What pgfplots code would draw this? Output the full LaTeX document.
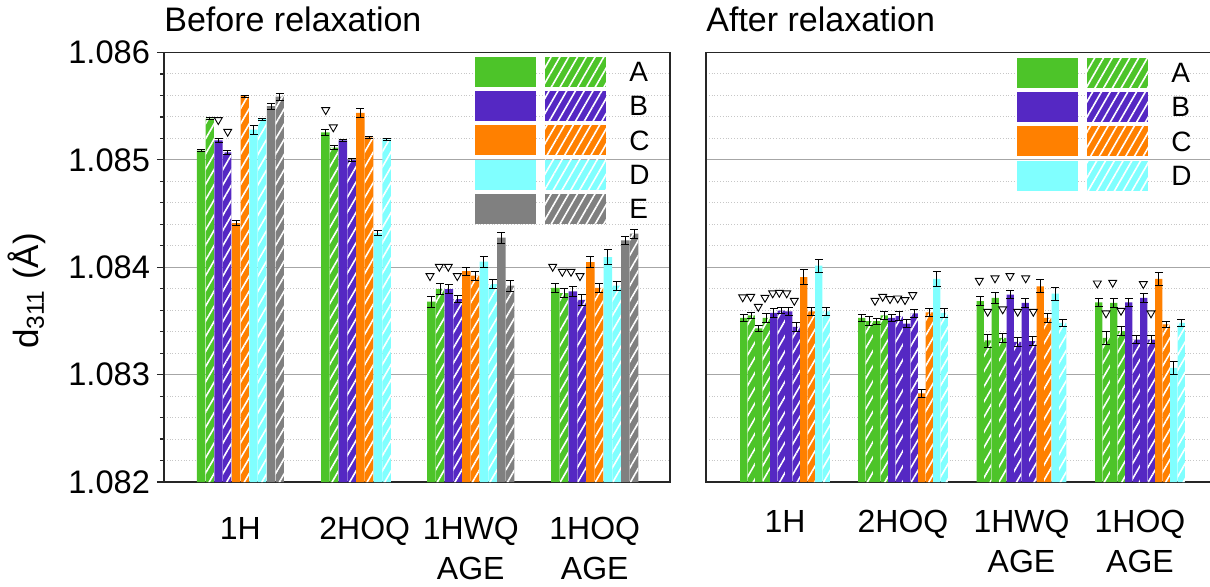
\documentclass[border=0pt]{standalone}
\usepackage{fontspec}
\setmainfont{Liberation Sans}
\usepackage{pgfplots}
\pgfplotsset{compat=1.18}
\usetikzlibrary{patterns.meta}
\definecolor{cA}{RGB}{77,196,41}
\definecolor{cB}{RGB}{85,40,195}
\definecolor{cC}{RGB}{255,128,0}
\definecolor{cD}{RGB}{128,255,255}
\definecolor{cE}{RGB}{128,128,128}
\pgfplotsset{
  hatch/.style={postaction={pattern={Lines[angle=60,distance=3.8pt,line width=0.8pt]}, pattern color=white}},
  eb/.style={error bars/y dir=both, error bars/y explicit,
    error bars/error bar style={draw=black, line width=0.4pt},
    error bars/error mark options={rotate=90, draw=black, line width=0.4pt, mark size=2pt}},
  barL/.style={ybar, bar width=8.4, bar shift=0pt, draw=none, fill=#1, eb},
  barR/.style={ybar, bar width=7.2, bar shift=0pt, draw=none, fill=#1, eb},
  tri/.style={only marks, mark=triangle*, mark size=2.3pt,
    mark options={rotate=180, draw=black, fill=white, line width=0.45pt}},
  common/.style={
    scale only axis, width=253pt, height=214.75pt,
    ymin=0, ymax=0.004, y filter/.expression={y-1.082},
    ytick={0,0.001,0.002,0.003,0.004}, minor y tick num=4, scaled y ticks=false,
    ymajorgrids, yminorgrids,
    major grid style={black!35, line width=0.5pt},
    minor grid style={black!22, densely dotted, line width=0.5pt},
    axis line style={black!85, line width=0.75pt},
    xtick style={draw=none},
    xticklabel style={align=center, font=\fontsize{16}{20}\selectfont, anchor=north, inner sep=0pt, yshift=-14pt},
    title style={at={(axis description cs:0,1)}, anchor=base west, inner sep=0pt, yshift=4.4pt, font=\fontsize{17}{20}\selectfont},
  },
}
% legend row: x0, ytop, colour, letter (legend swatches only)
\newcommand\legrow[4]{\begin{scope}[shift={(#1,#2)}]
  \fill[#3] (0pt,0pt) rectangle (30.5pt,-15pt);
  \fill[#3] (35pt,0pt) rectangle (65.5pt,-15pt);
  \path[pattern={Lines[angle=60,distance=3.8pt,line width=0.8pt]}, pattern color=white] (35pt,0pt) rectangle (65.5pt,-15pt);
  \node[anchor=west, inner sep=0pt, font=\fontsize{14}{16}\selectfont] at (77pt,-7.5pt) {#4};
\end{scope}}
\begin{document}
\begin{tikzpicture}
% ---------------- Before relaxation ----------------
\begin{axis}[common, at={(82pt,52pt)}, anchor=south west,
  xmin=164, xmax=670,
  xtick={240.4,364.75,470.75,594.75},
  xticklabels={1H,2HOQ,{1HWQ\\AGE},{1HOQ\\AGE}},
  yticklabels={1.082,1.083,1.084,1.085,1.086},
  yticklabel style={font=\fontsize{16.3}{19}\selectfont},
  ytick pos=left, tick align=outside, major tick length=3.5pt, minor tick length=2pt,
  tick style={black!85, line width=0.6pt},
  ylabel={d\textsubscript{311} (Å)},
  ylabel style={at={(axis description cs:-0.2708,0.4447)}, anchor=center, font=\fontsize{17.5}{20}\selectfont},
  title={Before relaxation}]
\addplot[barL=cA] coordinates {(201.03,1.085087)+-(0,0.00001) (325.38,1.085256)+-(0,0.00003) (431.38,1.083679)+-(0,0.00005) (555.38,1.083807)+-(0,0.00004)};
\addplot[barL=cA, hatch] coordinates {(209.78,1.085384)+-(0,0.00001) (334.13,1.085115)+-(0,0.00002) (440.13,1.083797)+-(0,0.00005) (564.13,1.083760)+-(0,0.00004)};
\addplot[barL=cB] coordinates {(218.53,1.085181)+-(0,0.00002) (342.88,1.085181)+-(0,0.00001) (448.88,1.083797)+-(0,0.00004) (572.88,1.083775)+-(0,0.00005)};
\addplot[barL=cB, hatch] coordinates {(227.28,1.085069)+-(0,0.00002) (351.63,1.085000)+-(0,0.00001) (457.63,1.083704)+-(0,0.00003) (581.63,1.083697)+-(0,0.00005)};
\addplot[barL=cC] coordinates {(236.03,1.084412)+-(0,0.00002) (360.38,1.085438)+-(0,0.00004) (466.38,1.083963)+-(0,0.00004) (590.38,1.084047)+-(0,0.00005)};
\addplot[barL=cC, hatch] coordinates {(244.78,1.085594)+-(0,0.00001) (369.13,1.085209)+-(0,0.00001) (475.13,1.083922)+-(0,0.00004) (599.13,1.083807)+-(0,0.00004)};
\addplot[barL=cD] coordinates {(253.53,1.085281)+-(0,0.00004) (377.88,1.084319)+-(0,0.00002) (483.88,1.084053)+-(0,0.00005) (607.88,1.084094)+-(0,0.00007)};
\addplot[barL=cD, hatch] coordinates {(262.28,1.085381)+-(0,0.00001) (386.63,1.085190)+-(0,0.00001) (492.63,1.083844)+-(0,0.00004) (616.63,1.083828)+-(0,0.00004)};
\addplot[barL=cE] coordinates {(271.03,1.085500)+-(0,0.00003) (501.38,1.084276)+-(0,0.00005) (625.38,1.084250)+-(0,0.00004)};
\addplot[barL=cE, hatch] coordinates {(279.78,1.085588)+-(0,0.00003) (510.13,1.083828)+-(0,0.00005) (634.13,1.084313)+-(0,0.00004)};
\addplot[tri] coordinates {(218.3,1.085372) (227.7,1.085263) (325.7,1.085465) (333.3,1.085304)
  (430,1.083919) (439.3,1.084006) (448.3,1.084006) (457.3,1.083919)
  (552.7,1.084006) (562.3,1.083959) (571,1.083959) (580,1.083919)};
\end{axis}
% ---------------- After relaxation ----------------
\begin{axis}[common, at={(353pt,52pt)}, anchor=south west,
  xmin=706, xmax=1212,
  xtick={785,903,1021.5,1140},
  xticklabels={1H,2HOQ,{1HWQ\\AGE},{1HOQ\\AGE}},
  yticklabels={}, ytick style={draw=none}, major tick length=0pt, minor tick length=0pt,
  title={After relaxation}]
\addplot[barR=cA] coordinates {(743.75,1.083529)+-(0,0.00003) (861.75,1.083529)+-(0,0.00003) (980.25,1.083684)+-(0,0.00004) (1098.75,1.083674)+-(0,0.00004)};
\addplot[barR=cA, hatch] coordinates {(751.25,1.083551)+-(0,0.00003) (869.25,1.083498)+-(0,0.00004) (987.75,1.083318)+-(0,0.00006) (1106.25,1.083343)+-(0,0.00006)};
\addplot[barR=cA] coordinates {(758.75,1.083430)+-(0,0.00003) (876.75,1.083498)+-(0,0.00003) (995.25,1.083715)+-(0,0.00005) (1113.75,1.083669)+-(0,0.00004)};
\addplot[barR=cA, hatch] coordinates {(766.25,1.083529)+-(0,0.00004) (884.25,1.083551)+-(0,0.00004) (1002.75,1.083343)+-(0,0.00004) (1121.25,1.083405)+-(0,0.00004)};
\addplot[barR=cB] coordinates {(773.75,1.083576)+-(0,0.00004) (891.75,1.083529)+-(0,0.00003) (1010.25,1.083746)+-(0,0.00004) (1128.75,1.083674)+-(0,0.00004)};
\addplot[barR=cB, hatch] coordinates {(781.25,1.083597)+-(0,0.00003) (899.25,1.083545)+-(0,0.00004) (1017.75,1.083306)+-(0,0.00004) (1136.25,1.083327)+-(0,0.00004)};
\addplot[barR=cB] coordinates {(788.75,1.083590)+-(0,0.00004) (906.75,1.083476)+-(0,0.00004) (1025.25,1.083669)+-(0,0.00004) (1143.75,1.083715)+-(0,0.00004)};
\addplot[barR=cB, hatch] coordinates {(796.25,1.083445)+-(0,0.00004) (914.25,1.083570)+-(0,0.00004) (1032.75,1.083312)+-(0,0.00004) (1151.25,1.083327)+-(0,0.00004)};
\addplot[barR=cC] coordinates {(803.75,1.083907)+-(0,0.00007) (921.75,1.082825)+-(0,0.00004) (1040.25,1.083823)+-(0,0.00006) (1158.75,1.083892)+-(0,0.00006)};
\addplot[barR=cC, hatch] coordinates {(811.25,1.083590)+-(0,0.00004) (929.25,1.083580)+-(0,0.00004) (1047.75,1.083529)+-(0,0.00004) (1166.25,1.083467)+-(0,0.00003)};
\addplot[barR=cD] coordinates {(818.75,1.084016)+-(0,0.00006) (936.75,1.083892)+-(0,0.00007) (1055.25,1.083755)+-(0,0.00006) (1173.75,1.083064)+-(0,0.00006)};
\addplot[barR=cD, hatch] coordinates {(826.25,1.083590)+-(0,0.00004) (944.25,1.083576)+-(0,0.00004) (1062.75,1.083483)+-(0,0.00003) (1181.25,1.083483)+-(0,0.00003)};
\addplot[tri] coordinates {(742.7,1.083721) (750.7,1.083726) (758.3,1.083633) (765,1.083717) (772.7,1.083758) (779.3,1.083764) (786.7,1.083758) (794.3,1.083689)
  (875,1.083689) (882.7,1.083726) (890,1.083705) (897.7,1.083711) (905,1.083696) (912.7,1.083742)
  (979.3,1.083875) (987.7,1.083587) (995,1.083898) (1002.7,1.083609) (1010,1.083919) (1017.7,1.083587) (1025.7,1.083898) (1033.3,1.083587)
  (1097.3,1.083851) (1106,1.083572) (1112.7,1.083857) (1121,1.083596) (1143.3,1.083845) (1151,1.083572)};
\end{axis}
% ---------------- legends ----------------
\legrow{237.5pt}{264.5pt}{cA}{A}
\legrow{237.5pt}{247.4pt}{cB}{B}
\legrow{237.5pt}{230.3pt}{cC}{C}
\legrow{237.5pt}{213.2pt}{cD}{D}
\legrow{237.5pt}{196.1pt}{cE}{E}
\legrow{508.5pt}{264.0pt}{cA}{A}
\legrow{508.5pt}{246.9pt}{cB}{B}
\legrow{508.5pt}{229.8pt}{cC}{C}
\legrow{508.5pt}{212.7pt}{cD}{D}
\pgfresetboundingbox
\path[use as bounding box] (0,0) rectangle (605pt,293pt);
\end{tikzpicture}
\end{document}
